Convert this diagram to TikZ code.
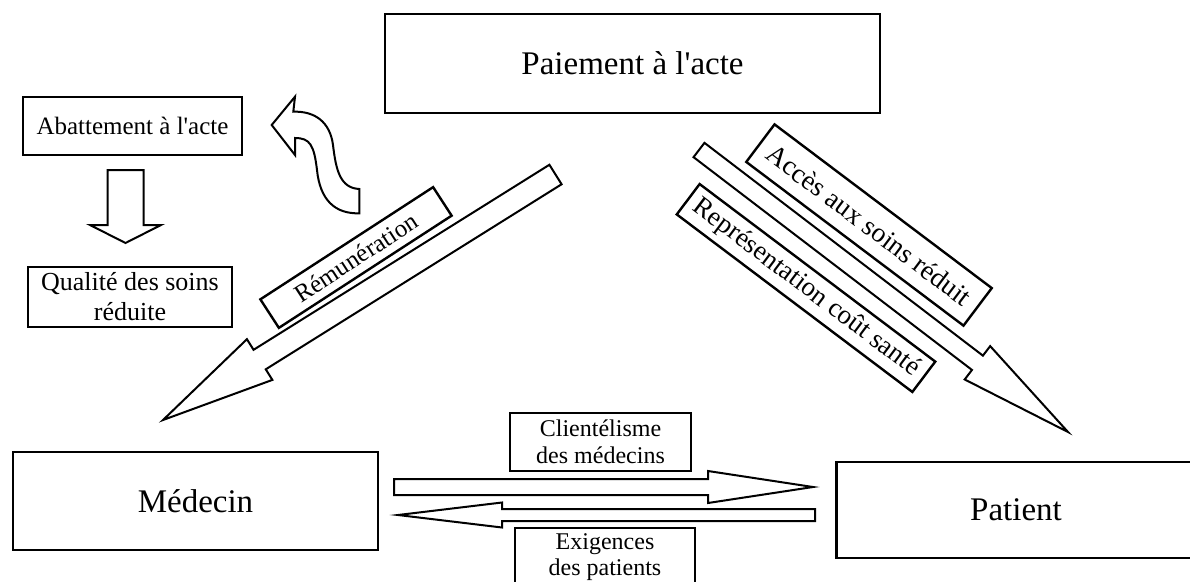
\documentclass[tikz,border=0pt]{standalone}
\usepackage{fontspec}
\setmainfont{Liberation Serif}[Ligatures=TeXOff]
\usetikzlibrary{calc}
\newcommand{\blockarrow}[6]{%
\coordinate (#1t) at #2; \coordinate (#1p) at #3;
\coordinate (#1b) at ($(#1p)!#6!(#1t)$);
\draw[blk] ($(#1t)!#4!90:(#1p)$) -- ($(#1b)!#4!90:(#1p)$) -- ($(#1b)!#5!90:(#1p)$) -- (#1p) -- ($(#1b)!#5!-90:(#1p)$) -- ($(#1b)!#4!-90:(#1p)$) -- ($(#1t)!#4!-90:(#1p)$) -- cycle;}
\begin{document}
\begin{tikzpicture}[x=1pt,y=-1pt,
  box/.style={draw,line width=2.4pt,inner sep=0pt,align=center,fill=white},
  blk/.style={draw,line width=2pt,fill=white,line join=miter}]
\useasboundingbox (0,0) rectangle (1190,581);
\clip (0,0) rectangle (1190,581);
% block arrows
\blockarrow{dn}{(125.5,170)}{(125.5,243)}{18pt}{35.5pt}{18pt}
\blockarrow{rem}{(555.5,174.5)}{(163,420)}{11.5pt}{24pt}{114pt}
\blockarrow{acc}{(699,150)}{(1068,432)}{9pt}{21pt}{114pt}
\blockarrow{cli}{(394,487)}{(813,487)}{8pt}{16pt}{105pt}
\blockarrow{exi}{(815,515)}{(398,515)}{6pt}{12.5pt}{104pt}
% curved arrow
\draw[blk] (271.7,125) -- (295,96.7) -- (293.3,111.7)
  .. controls (315,111) and (330,122) .. (333,145)
  .. controls (336,170) and (340,188) .. (359.3,189)
  -- (359.3,213.3)
  .. controls (335,214) and (320,200) .. (317,170)
  .. controls (314,145) and (310,138) .. (295,138)
  -- (295,155) -- cycle;
% boxes
\node[box,minimum width=495pt,minimum height=99pt,font=\fontsize{33}{36}\selectfont] (paie) at (632.5,63.5) {Paiement à l'acte};
\node[box,minimum width=365pt,minimum height=98pt,font=\fontsize{33}{36}\selectfont] (med) at (195.5,501) {Médecin};
\node[box,minimum width=359pt,minimum height=96pt,font=\fontsize{33}{36}\selectfont] (pat) at (1016,510) {Patient};
\node[box,minimum width=219pt,minimum height=58pt,font=\fontsize{25}{28}\selectfont] (aba) at (132.5,126) {Abattement à l'acte};
\node[box,minimum width=204pt,minimum height=60pt,font=\fontsize{26}{30}\selectfont] (qua) at (130,297) {Qualité des soins\\réduite};
\node[box,minimum width=181pt,minimum height=58pt,font=\fontsize{24}{27}\selectfont] (cl) at (600.5,442) {Clientélisme\\des médecins};
\node[box,minimum width=180pt,minimum height=58pt,font=\fontsize{24}{26}\selectfont] (ex) at (605,557) {Exigences\\des patients};
\node[box,rotate=33,minimum width=206pt,minimum height=34pt,font=\fontsize{25}{28}\selectfont] (remu) at (356,257.5) {Rémunération};
\node[box,rotate=-37,minimum width=272pt,minimum height=47pt,font=\fontsize{27.5}{30}\selectfont] (acces) at (869,225) {Accès aux soins réduit};
\node[box,rotate=-37,minimum width=295pt,minimum height=38pt,font=\fontsize{27}{30}\selectfont] (repr) at (806,288) {Représentation coût santé};
\end{tikzpicture}
\end{document}
